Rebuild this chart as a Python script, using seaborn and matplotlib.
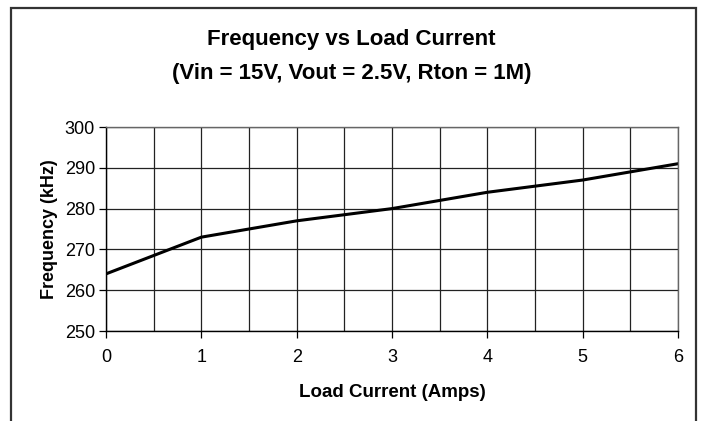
import numpy as np
import pandas as pd
import seaborn as sns
import matplotlib.pyplot as plt
from matplotlib.patches import Rectangle

# data
load_current = [0, 1, 2, 3, 4, 5, 6]
frequency_khz = [264, 273, 277, 280, 284, 287, 291]
x_ticks = [0, 1, 2, 3, 4, 5, 6]
y_ticks = [250, 260, 270, 280, 290, 300]

df = pd.DataFrame({"current": load_current, "freq": frequency_khz})

sns.set_style("white")
plt.rcParams['font.family'] = ['Liberation Sans', 'DejaVu Sans']
plt.rcParams['text.color'] = 'black'
plt.rcParams['axes.labelcolor'] = 'black'
plt.rcParams['xtick.color'] = 'black'
plt.rcParams['ytick.color'] = 'black'

fig = plt.figure(figsize=(7.03, 4.21), dpi=100)
ax = fig.add_axes([106/703, 1-331/421, (678-106)/703, (331-127)/421])

sns.lineplot(data=df, x="current", y="freq", color="black", linewidth=2.2, ax=ax)

ax.set_xlim(0, 6)
ax.set_ylim(250, 300)
ax.set_xticks(x_ticks)
ax.set_yticks(y_ticks)
ax.set_xticks(np.arange(0.5, 6, 1), minor=True)
ax.grid(True, which="both", color="#222222", linewidth=0.9)
ax.tick_params(axis="x", which="major", direction="out", length=5, width=0.9,
               labelsize=13, pad=8, bottom=True)
ax.tick_params(axis="x", which="minor", length=0, bottom=False)
ax.tick_params(axis="y", which="major", direction="out", length=5, width=0.9,
               labelsize=13, pad=3, left=True)
for side in ["top", "right"]:
    ax.spines[side].set_color("#666666")
    ax.spines[side].set_linewidth(1)
for side in ["left", "bottom"]:
    ax.spines[side].set_color("black")
    ax.spines[side].set_linewidth(1)

ax.set_xlabel("Load Current (Amps)", fontsize=13.5, fontweight="bold", labelpad=13)
ax.set_ylabel("Frequency (kHz)", fontsize=13, fontweight="bold", labelpad=5)

fig.text(0.5, 1-40/421, "Frequency vs Load Current", ha="center", va="center",
         fontsize=16, fontweight="bold")
fig.text(0.5, 1-73/421, "(Vin = 15V, Vout = 2.5V, Rton = 1M)", ha="center", va="center",
         fontsize=16, fontweight="bold")

# chart border
fig.patches.append(Rectangle((11/703, -0.05), (696-11)/703, 1.05-8/421,
                             transform=fig.transFigure, fill=False,
                             edgecolor="#333333", linewidth=1.6))

fig.savefig("out.png", dpi=100)
